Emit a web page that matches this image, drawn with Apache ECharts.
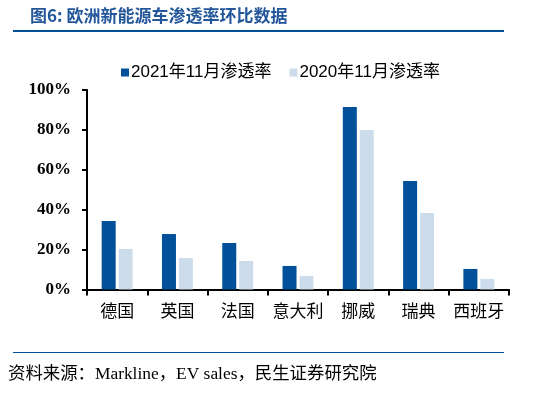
<!DOCTYPE html>
<html>
<head>
<meta charset="utf-8">
<script src="https://cdn.jsdelivr.net/npm/echarts@6/dist/echarts.min.js"></script>
<style>
  html, body { margin: 0; padding: 0; background: #fff; }
  #chart { width: 543px; height: 398px; }
</style>
</head>
<body>
<div id="chart"></div>
<script>
// 国家
var countries = ['德国', '英国', '法国', '意大利', '挪威', '瑞典', '西班牙'];
// 渗透率 (%)
var rate2021 = [34.3, 27.8, 23.3, 11.8, 91.5, 54.4, 10.3];
var rate2020 = [20.3, 15.8, 14.3, 6.8, 80.0, 38.3, 5.3];
var seriesNames = ['2021年11月渗透率', '2020年11月渗透率'];
var colors = ['#00519a', '#cddcea'];

var myChart = echarts.init(document.getElementById('chart'));
var option = {
  animation: false,
  color: colors,
  graphic: [
    {
      type: 'text', left: 30, top: 7,
      style: { text: '图6: 欧洲新能源车渗透率环比数据', fill: '#23579a',
        font: 'bold 17px "Noto Sans CJK SC", sans-serif' }
    },
    { type: 'rect', shape: { x: 13, y: 30, width: 491, height: 2 }, style: { fill: '#00519a' } },
    { type: 'rect', shape: { x: 13, y: 352, width: 491, height: 1 }, style: { fill: '#00519a' } },
    {
      type: 'text', left: 8, top: 366,
      style: { text: '资料来源：Markline，EV sales，民生证券研究院', fill: '#000',
        font: '17.4px "Liberation Serif", "Noto Sans CJK SC", serif' }
    }
  ],
  legend: {
    top: 59, left: 116,
    icon: 'rect', itemWidth: 8, itemHeight: 8, itemGap: 18,
    textStyle: { fontSize: 17, color: '#000', padding: [0, 0, 0, -3],
      fontFamily: '"Liberation Sans", "Noto Sans CJK SC", sans-serif' },
    data: seriesNames
  },
  grid: { left: 87, right: 34, top: 90, bottom: 108.5, containLabel: false },
  xAxis: {
    type: 'category',
    data: countries,
    axisLine: { lineStyle: { color: '#000', width: 2 } },
    axisTick: { show: true, length: 6, lineStyle: { color: '#000', width: 2 } },
    axisLabel: { interval: 0, margin: 13, fontSize: 17, color: '#000', fontFamily: '"Noto Sans CJK SC", sans-serif' }
  },
  yAxis: {
    type: 'value', min: 0, max: 100, interval: 20,
    axisLine: { show: true, lineStyle: { color: '#000', width: 2 } },
    axisTick: { show: true, length: 5, lineStyle: { color: '#000', width: 2 } },
    splitLine: { show: false },
    axisLabel: { formatter: '{value}%', margin: 16, fontSize: 17, fontWeight: 'bold', color: '#000',
      fontFamily: '"Liberation Serif", "Times New Roman", serif' }
  },
  series: [
    { name: seriesNames[0], type: 'bar', data: rate2021, barWidth: 14, barGap: '21%' },
    { name: seriesNames[1], type: 'bar', data: rate2020, barWidth: 14, barGap: '21%' }
  ]
};
myChart.setOption(option);
</script>
</body>
</html>
